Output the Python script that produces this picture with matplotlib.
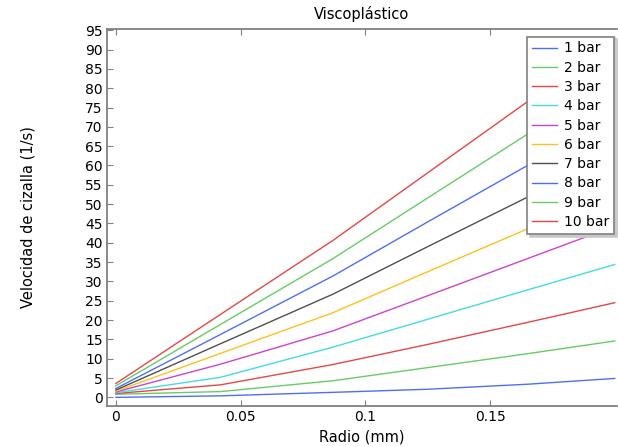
import matplotlib
matplotlib.use('Agg')
import matplotlib.pyplot as plt

# radio (mm) donde se leen los valores
radio = [0, 0.042, 0.087, 0.125, 0.165, 0.2]

# velocidad de cizalla (1/s) por presion
v1 = [0.0, 0.4, 1.3, 2.1, 3.4, 4.9]
v2 = [0.8, 1.5, 4.3, 7.7, 11.3, 14.6]
v3 = [1.0, 3.25, 8.5, 13.7, 19.4, 24.5]
v4 = [1.2, 5.2, 13.0, 20.2, 27.8, 34.4]
v5 = [1.4, 8.6, 17.2, 26.3, 35.9, 44.3]
v6 = [1.6, 11.4, 21.9, 32.5, 43.6, 54.0]
v7 = [1.9, 13.9, 26.7, 39.0, 51.8, 63.5]
v8 = [2.3, 16.3, 31.4, 45.4, 60.0, 73.5]
v9 = [3.0, 18.9, 35.9, 51.6, 68.1, 83.5]
v10 = [3.6, 21.5, 40.6, 58.1, 76.5, 93.0]

series = [v1, v2, v3, v4, v5, v6, v7, v8, v9, v10]
etiquetas = ['1 bar', '2 bar', '3 bar', '4 bar', '5 bar',
             '6 bar', '7 bar', '8 bar', '9 bar', '10 bar']
colores = ['#4f6ef7', '#66cc66', '#e84646', '#44dddd', '#cc44cc',
           '#ffc020', '#505050', '#4f6ef7', '#66cc66', '#e84646']

fig = plt.figure(figsize=(6.18, 4.47), dpi=100)
ax = fig.add_axes([0.173, 0.092, 0.825, 0.843])

for y, lab, c in zip(series, etiquetas, colores):
    ax.plot(radio, y, color=c, lw=1.0, label=lab)

ax.set_xlim(-0.0036, 0.2008)
ax.set_ylim(-2.2, 95.3)
ax.set_xticks([0, 0.05, 0.1, 0.15])
ax.set_xticklabels(['0', '0.05', '0.1', '0.15'])
ax.set_yticks(range(0, 96, 5))
ax.tick_params(direction='in', top=True, right=False, labelsize=10,
               color='#808080', length=4, pad=3)
for s in ['left', 'bottom', 'top']:
    ax.spines[s].set_color('#808080')
    ax.spines[s].set_linewidth(1.3)
ax.spines['right'].set_visible(False)

ax.set_title('Viscoplástico', fontsize=10.5, pad=7)
ax.set_xlabel('Radio (mm)', fontsize=10.5, labelpad=4)
ax.set_ylabel('Velocidad de cizalla (1/s)', fontsize=10.5, labelpad=36)

leg = ax.legend(loc='upper right', bbox_to_anchor=(0.995, 0.98),
                borderaxespad=0, fontsize=10, fancybox=False,
                shadow={'color': '#c8c8c8', 'alpha': 1},
                framealpha=1, edgecolor='#808080', labelspacing=0.38,
                handlelength=1.8, handletextpad=0.5, borderpad=0.35)
leg.get_frame().set_linewidth(1.2)

fig.savefig('out.png', dpi=100)
